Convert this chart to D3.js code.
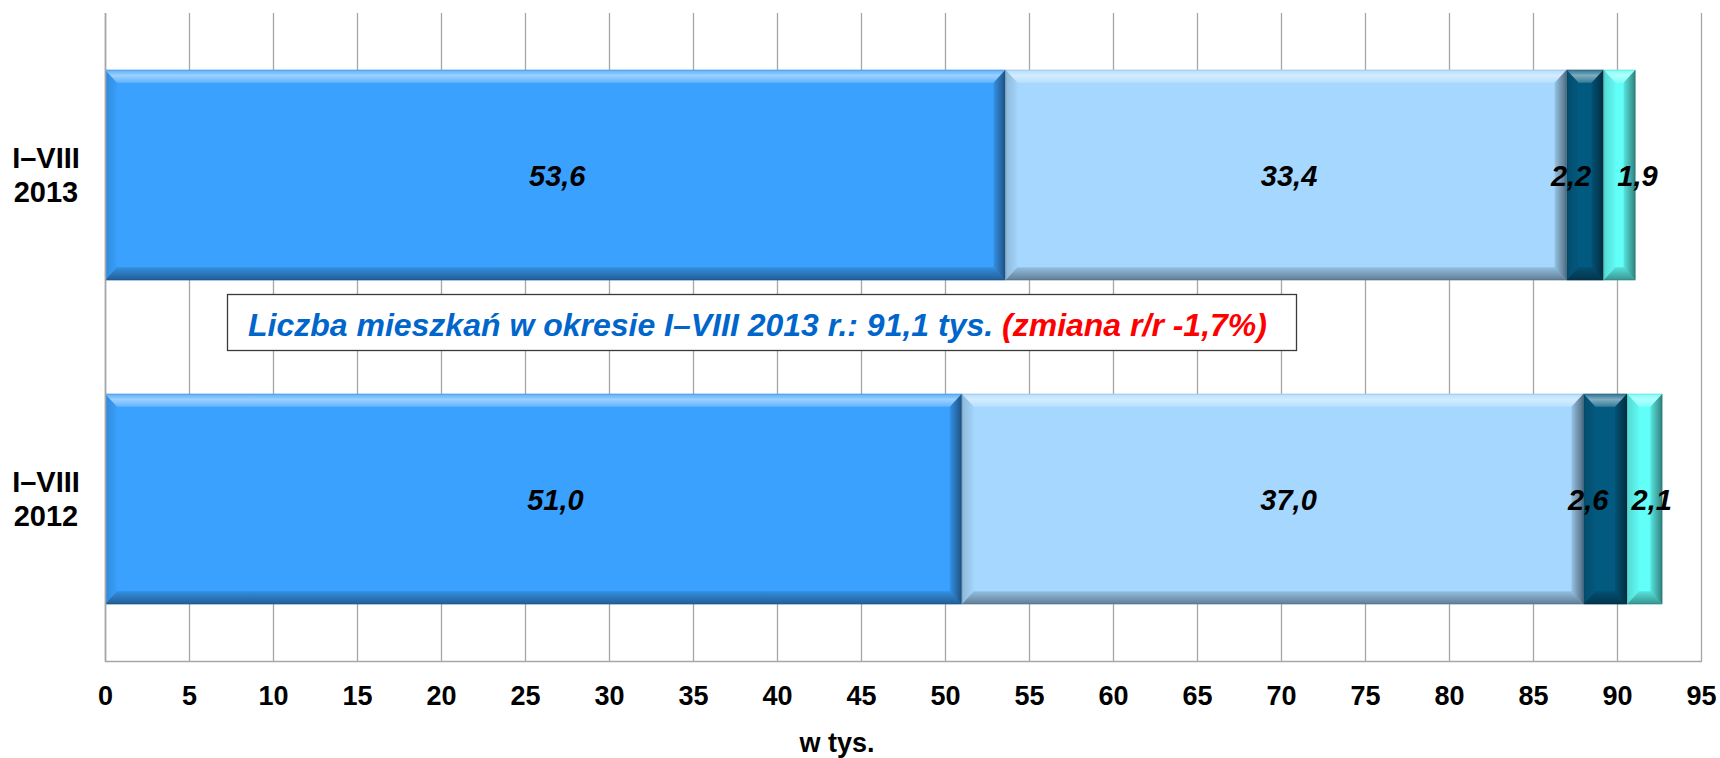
<!DOCTYPE html>
<html><head><meta charset="utf-8">
<script src="https://cdn.jsdelivr.net/npm/d3@7"></script>
<style>
html,body{margin:0;padding:0;background:#fff;}
svg{display:block;font-family:"Liberation Sans",Arial,sans-serif;}
</style></head>
<body>
<svg id="chart" width="1720" height="758"></svg>
<script>
const categories = [["I–VIII","2013"],["I–VIII","2012"]];
const seriesNames = ["s1","s2","s3","s4"];
const values2013 = [53.6, 33.4, 2.2, 1.9];
const values2012 = [51.0, 37.0, 2.6, 2.1];
const labels2013 = ["53,6","33,4","2,2","1,9"];
const labels2012 = ["51,0","37,0","2,6","2,1"];
const xTicks = [0,5,10,15,20,25,30,35,40,45,50,55,60,65,70,75,80,85,90,95];
const axisTitle = "w tys.";
const noteMain = "Liczba mieszkań w okresie I–VIII 2013 r.: 91,1 tys. ";
const noteChange = "(zmiana r/r -1,7%)";

const colors = ["#3aa1ff","#a6d8ff","#035a80","#62fff8"];
const labelNudge = [[2, 3, -14, 18], [22, 16, -17, 7]];

const svg = d3.select("#chart");
const defs = svg.append("defs");
function grad(id, x1,y1,x2,y2, stops){
  const g = defs.append("linearGradient").attr("id",id)
    .attr("x1",x1).attr("y1",y1).attr("x2",x2).attr("y2",y2);
  stops.forEach(s=>g.append("stop").attr("offset",s[0]).attr("stop-color",s[1]).attr("stop-opacity",s[2]));
}
grad("gTop",0,0,0,1,[[0,"#fff",0.15],[0.45,"#fff",0.5],[1,"#fff",0.2]]);
grad("gBot",0,0,0,1,[[0,"#000",0.12],[1,"#000",0.42]]);
grad("gRight",0,0,1,0,[[0,"#000",0.1],[1,"#000",0.5]]);
grad("gLeft",0,0,1,0,[[0,"#000",0.15],[1,"#000",0.02]]);

const pL = 105, pR = 1701, pT = 13, pB = 661;
const x = d3.scaleLinear().domain([0,95]).range([pL,pR]);
const y = d3.scaleBand().domain([0,1]).range([pT,pB]).paddingInner(0.35).paddingOuter(0.175);

// grid
svg.append("g").selectAll("line").data(xTicks).join("line")
  .attr("x1",d=>x(d)+0.5).attr("x2",d=>x(d)+0.5)
  .attr("y1",pT).attr("y2",pB)
  .attr("stroke","#a6a6a6").attr("stroke-width",1.3);
svg.append("line").attr("x1",pL).attr("x2",pR+1).attr("y1",pB+0.5).attr("y2",pB+0.5)
  .attr("stroke","#a6a6a6").attr("stroke-width",1.6);

// x axis labels
const xAxis = d3.axisBottom(x).tickValues(xTicks).tickSize(0).tickPadding(0).tickFormat(d3.format("d"));
const ax = svg.append("g").attr("transform",`translate(0,${pB})`).call(xAxis);
ax.select(".domain").remove();
ax.selectAll("text").attr("font-size",27).attr("font-weight","bold").attr("fill","#000")
  .attr("dy",null).attr("y",44).attr("font-family","Liberation Sans, Arial, sans-serif");

svg.append("text").attr("x",837).attr("y",752).attr("text-anchor","middle")
  .attr("font-size",27).attr("font-weight","bold").text(axisTitle);

// bars
const rows = [
  {vals: values2013, labs: labels2013},
  {vals: values2012, labs: labels2012}
];
rows.forEach((row,ri)=>{
  let cum = 0;
  const segs = row.vals.map((v,i)=>{ const s={i,x0:cum,x1:cum+v,lab:row.labs[i]}; cum+=v; return s; });
  const g = svg.append("g");
  const y0 = y(ri), h = y.bandwidth();
  segs.forEach(s=>{
    const x0 = x(s.x0), x1 = x(s.x1), w = x1-x0;
    const bv = Math.min(12, w/2-4), bh = 13;
    g.append("rect").attr("x",x0).attr("y",y0).attr("width",w).attr("height",h).attr("fill",colors[s.i]);
    g.append("path").attr("d",`M${x0},${y0}L${x1},${y0}L${x1-bv},${y0+bh}L${x0+bv},${y0+bh}Z`)
      .attr("fill","url(#gTop)");
    g.append("path").attr("d",`M${x0},${y0+h}L${x1},${y0+h}L${x1-bv},${y0+h-bh}L${x0+bv},${y0+h-bh}Z`)
      .attr("fill","url(#gBot)");
    g.append("path").attr("d",`M${x0},${y0}L${x0+bv},${y0+bh}L${x0+bv},${y0+h-bh}L${x0},${y0+h}Z`)
      .attr("fill","url(#gLeft)");
    g.append("path").attr("d",`M${x1},${y0}L${x1-bv},${y0+bh}L${x1-bv},${y0+h-bh}L${x1},${y0+h}Z`)
      .attr("fill","url(#gRight)");
    g.append("rect").attr("x",x0+0.5).attr("y",y0+0.5).attr("width",w-1).attr("height",h-1)
      .attr("fill","none").attr("stroke","#000").attr("stroke-opacity",0.1);
  });
  segs.forEach(s=>{
    g.append("text").attr("x",(x(s.x0)+x(s.x1))/2+labelNudge[ri][s.i]).attr("y",y0+h/2+11)
      .attr("text-anchor","middle").attr("font-size",29).attr("font-weight","bold")
      .attr("font-style","italic").attr("fill","#000").text(s.lab);
  });
  const c = y0+h/2;
  const t = svg.append("text").attr("text-anchor","middle").attr("font-size",29).attr("font-weight","bold");
  t.append("tspan").attr("x",46).attr("y",c-7).text(categories[ri][0]);
  t.append("tspan").attr("x",46).attr("y",c+27).text(categories[ri][1]);
});

// left axis line
svg.append("line").attr("x1",pL+0.5).attr("x2",pL+0.5).attr("y1",pT).attr("y2",pB+1)
  .attr("stroke","#a6a6a6").attr("stroke-width",1.6);

// annotation box
const bx0 = 227, bx1 = 1296, by0 = 294, by1 = 350;
svg.append("rect").attr("x",bx0+0.5).attr("y",by0+0.5).attr("width",bx1-bx0).attr("height",by1-by0)
  .attr("fill","#fff").attr("stroke","#3a3a3a").attr("stroke-width",1.3);
const note = svg.append("text").attr("font-size",31).attr("font-weight","bold").attr("font-style","italic")
  .attr("x",0).attr("y",0);
note.append("tspan").attr("fill","#0066cc").text(noteMain);
note.append("tspan").attr("fill","#ff0000").text(noteChange);
const tw = note.node().getComputedTextLength();
const targetW = 1019;
note.attr("transform",`translate(248,336) scale(${targetW/tw},1)`);
</script>
</body></html>
